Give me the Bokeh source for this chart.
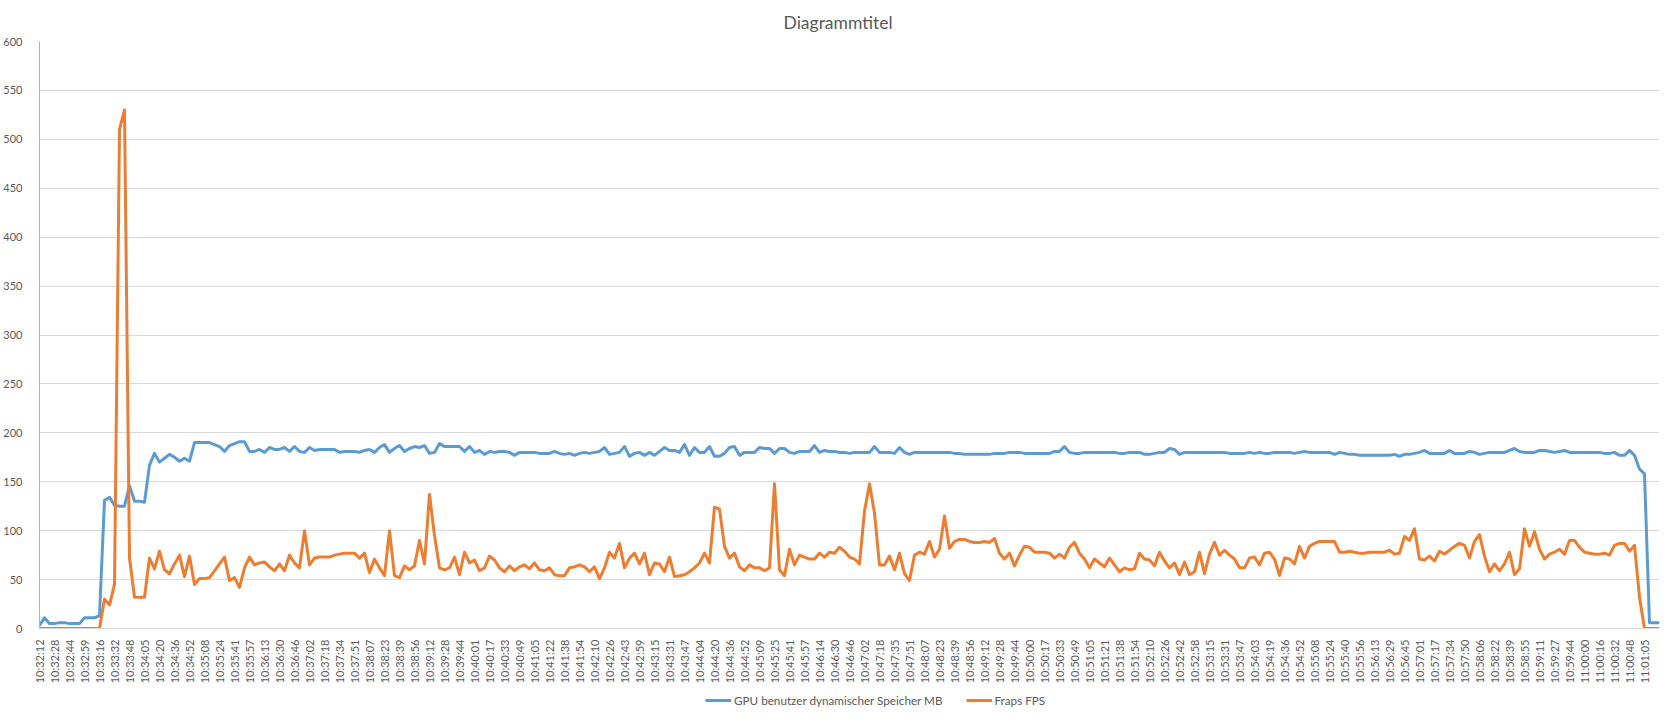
import math
from bokeh.plotting import figure
from bokeh.layouts import column
from bokeh.models import Range1d, FixedTicker, Legend, LegendItem
from bokeh.embed import file_html
from bokeh.resources import INLINE

# Tick labels (every 3rd sample is labelled)
time_labels = [
    "10:32:12", "10:32:28", "10:32:44", "10:32:59", "10:33:16", "10:33:32", "10:33:48", "10:34:05",
    "10:34:20", "10:34:36", "10:34:52", "10:35:08", "10:35:24", "10:35:41", "10:35:57", "10:36:13",
    "10:36:30", "10:36:46", "10:37:02", "10:37:18", "10:37:34", "10:37:51", "10:38:07", "10:38:23",
    "10:38:39", "10:38:56", "10:39:12", "10:39:28", "10:39:44", "10:40:01", "10:40:17", "10:40:33",
    "10:40:49", "10:41:05", "10:41:22", "10:41:38", "10:41:54", "10:42:10", "10:42:26", "10:42:43",
    "10:42:59", "10:43:15", "10:43:31", "10:43:47", "10:44:04", "10:44:20", "10:44:36", "10:44:52",
    "10:45:09", "10:45:25", "10:45:41", "10:45:57", "10:46:14", "10:46:30", "10:46:46", "10:47:02",
    "10:47:18", "10:47:35", "10:47:51", "10:48:07", "10:48:23", "10:48:39", "10:48:56", "10:49:12",
    "10:49:28", "10:49:44", "10:50:00", "10:50:17", "10:50:33", "10:50:49", "10:51:05", "10:51:21",
    "10:51:38", "10:51:54", "10:52:10", "10:52:26", "10:52:42", "10:52:58", "10:53:15", "10:53:31",
    "10:53:47", "10:54:03", "10:54:19", "10:54:36", "10:54:52", "10:55:08", "10:55:24", "10:55:40",
    "10:55:56", "10:56:13", "10:56:29", "10:56:45", "10:57:01", "10:57:17", "10:57:34", "10:57:50",
    "10:58:06", "10:58:22", "10:58:39", "10:58:55", "10:59:11", "10:59:27", "10:59:44", "11:00:00",
    "11:00:16", "11:00:32", "11:00:48", "11:01:05",
]

gpu_mb = [
    3, 11, 5, 5, 6, 6, 5, 5, 5, 11,
    11, 11, 13, 131, 134, 126, 125, 125, 146, 130,
    130, 129, 167, 179, 170, 174, 178, 175, 171, 174,
    171, 190, 190, 190, 190, 188, 186, 181, 187, 189,
    191, 191, 181, 181, 183, 180, 185, 183, 183, 185,
    181, 186, 181, 180, 185, 182, 183, 183, 183, 183,
    180, 181, 181, 181, 180, 182, 183, 180, 185, 188,
    180, 184, 187, 181, 184, 186, 185, 187, 179, 180,
    189, 186, 186, 186, 186, 181, 186, 180, 182, 178,
    181, 180, 181, 181, 180, 177, 180, 180, 180, 180,
    179, 179, 179, 181, 179, 178, 179, 177, 179, 180,
    179, 180, 181, 185, 178, 179, 180, 186, 176, 179,
    180, 177, 180, 177, 181, 185, 182, 182, 180, 188,
    177, 185, 180, 180, 186, 176, 176, 179, 185, 186,
    177, 180, 180, 180, 185, 184, 184, 179, 184, 184,
    180, 179, 181, 181, 181, 187, 180, 182, 181, 181,
    180, 180, 179, 180, 180, 180, 180, 186, 180, 180,
    180, 179, 185, 180, 178, 180, 180, 180, 180, 180,
    180, 180, 180, 179, 179, 178, 178, 178, 178, 178,
    178, 179, 179, 179, 180, 180, 180, 179, 179, 179,
    179, 179, 179, 181, 181, 186, 180, 179, 179, 180,
    180, 180, 180, 180, 180, 180, 179, 179, 180, 180,
    180, 178, 178, 179, 180, 180, 184, 183, 178, 180,
    180, 180, 180, 180, 180, 180, 180, 180, 179, 179,
    179, 179, 180, 179, 180, 179, 179, 180, 180, 180,
    180, 179, 180, 181, 180, 180, 180, 180, 180, 178,
    180, 179, 178, 178, 177, 177, 177, 177, 177, 177,
    177, 178, 176, 178, 178, 179, 180, 182, 179, 179,
    179, 179, 182, 179, 179, 179, 181, 180, 178, 179,
    180, 180, 180, 180, 182, 184, 181, 180, 180, 180,
    182, 182, 181, 180, 181, 182, 180, 180, 180, 180,
    180, 180, 180, 179, 179, 180, 177, 177, 182, 177,
    163, 158, 6, 6, 6,
]

fraps_fps = [
    0, 0, 0, 0, 0, 0, 0, 0, 0, 0,
    0, 0, 0, 30, 24, 45, 510, 530, 72, 32,
    32, 32, 72, 61, 79, 60, 56, 66, 75, 53,
    74, 45, 51, 51, 52, 59, 66, 73, 49, 52,
    42, 62, 73, 65, 67, 68, 63, 59, 66, 59,
    75, 67, 62, 100, 65, 72, 73, 73, 73, 75,
    76, 77, 77, 77, 72, 77, 57, 71, 62, 54,
    100, 54, 52, 64, 60, 64, 90, 66, 137, 95,
    62, 60, 62, 73, 55, 78, 67, 70, 59, 62,
    74, 70, 62, 58, 64, 59, 63, 65, 61, 67,
    60, 59, 62, 55, 54, 54, 62, 63, 65, 63,
    58, 63, 51, 62, 78, 72, 87, 62, 72, 77,
    66, 77, 55, 67, 66, 58, 73, 53, 54, 55,
    58, 62, 67, 77, 67, 124, 122, 84, 72, 77,
    63, 59, 65, 62, 62, 59, 62, 148, 60, 54,
    81, 65, 75, 73, 71, 71, 77, 73, 78, 77,
    83, 79, 73, 71, 66, 120, 148, 118, 65, 65,
    74, 60, 77, 56, 49, 75, 78, 76, 89, 73,
    81, 115, 82, 89, 91, 91, 89, 88, 88, 89,
    88, 92, 77, 71, 77, 64, 75, 84, 83, 78,
    78, 78, 77, 72, 76, 72, 83, 88, 77, 71,
    62, 71, 67, 63, 72, 65, 58, 62, 60, 61,
    77, 71, 70, 64, 78, 69, 62, 67, 55, 68,
    55, 58, 78, 56, 76, 88, 75, 80, 75, 71,
    62, 62, 72, 73, 65, 77, 78, 71, 54, 72,
    71, 66, 84, 72, 84, 87, 89, 89, 89, 89,
    78, 78, 79, 78, 77, 77, 78, 78, 78, 78,
    80, 76, 77, 94, 90, 102, 71, 70, 74, 69,
    79, 76, 80, 84, 87, 85, 72, 89, 96, 74,
    58, 66, 59, 66, 78, 55, 61, 102, 84, 99,
    81, 71, 76, 78, 81, 76, 90, 90, 83, 78,
    77, 76, 76, 77, 75, 85, 87, 87, 79, 85,
    32, 0, 0, 0, 0,
]

series_names = ["GPU benutzer dynamischer Speicher MB", "Fraps FPS"]
series_colors = ["#5B9BD5", "#ED7D31"]
y_ticks = list(range(0, 601, 50))
label_step = 3

n = len(gpu_mb)
xs = list(range(n))
x_ticks = [i * label_step for i in range(len(time_labels))]
overrides = {t: lab for t, lab in zip(x_ticks, time_labels)}

FONT = "Lato"
TXT = "#595959"

p = figure(frame_width=1620, frame_height=587,
           output_backend="svg", toolbar_location=None,
           x_range=Range1d(0, n - 1), y_range=Range1d(0, 600),
           min_border_left=28, min_border_right=7, min_border_top=41, min_border_bottom=56,
           background_fill_color="white", border_fill_color="white")
p.outline_line_color = None

p.title.text = "Diagrammtitel"
p.title.align = "left"
p.title.offset = 744
p.title.standoff = 17
p.title.text_font = FONT
p.title.text_font_size = "17.5px"
p.title.text_font_style = "normal"
p.title.text_color = TXT

p.line(xs, gpu_mb, line_color=series_colors[0], line_width=3, line_join="round")
p.line(xs, fraps_fps, line_color=series_colors[1], line_width=3, line_join="round")

p.xaxis.ticker = FixedTicker(ticks=x_ticks)
p.xaxis.major_label_overrides = overrides
p.xaxis.major_label_orientation = math.pi / 2
p.xaxis.major_label_text_font = FONT
p.xaxis.major_label_text_font_size = "11px"
p.xaxis.major_label_text_color = TXT
p.xaxis.major_label_standoff = 5
p.xaxis.axis_line_color = "#d9d9d9"
p.xaxis.major_tick_line_color = None
p.xaxis.minor_tick_line_color = None

p.yaxis.ticker = FixedTicker(ticks=y_ticks)
p.yaxis.major_label_text_font = FONT
p.yaxis.major_label_text_font_size = "11px"
p.yaxis.major_label_text_color = TXT
p.yaxis.major_label_standoff = 11
p.yaxis.axis_line_color = "#b4b4b4"
p.yaxis.major_tick_line_color = None
p.yaxis.minor_tick_line_color = None

p.xgrid.visible = False
p.ygrid.ticker = FixedTicker(ticks=y_ticks)
p.ygrid.grid_line_color = "#d9d9d9"
p.ygrid.grid_line_width = 1

# Legend strip below the chart (sample lines kept outside the strip's visible range)
lg = figure(width=1655, height=28, output_backend="svg", toolbar_location=None,
            x_axis_location=None, y_axis_location=None,
            x_range=Range1d(0, 1), y_range=Range1d(0, 1),
            min_border_left=0, min_border_right=0, min_border_top=0, min_border_bottom=0,
            background_fill_color="white", border_fill_color="white")
lg.outline_line_color = None
lg.xgrid.visible = False
lg.ygrid.visible = False
d1 = lg.line(x=[5, 6], y=[5, 6], line_color=series_colors[0], line_width=3)
d2 = lg.line(x=[5, 6], y=[5, 6], line_color=series_colors[1], line_width=3)
legend = Legend(items=[LegendItem(label=series_names[0], renderers=[d1]),
                       LegendItem(label=series_names[1], renderers=[d2])],
                orientation="horizontal", location=(666, 7),
                label_text_font=FONT, label_text_font_size="11.7px", label_text_color=TXT,
                glyph_width=26, glyph_height=12, label_standoff=3, spacing=23,
                padding=0, margin=0, border_line_color=None, background_fill_alpha=0)
lg.add_layout(legend, "center")

page = column(p, lg, spacing=0)
open("out.html", "w").write(file_html(page, INLINE))
